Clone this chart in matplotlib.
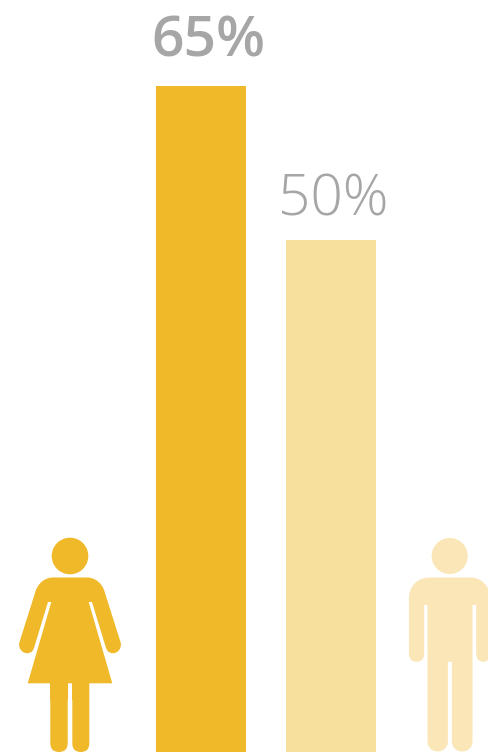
# gender_bars.py
import matplotlib
matplotlib.use("Agg")
import matplotlib.pyplot as plt
from matplotlib.path import Path
from matplotlib.patches import Circle, PathPatch, FancyBboxPatch

plt.rcParams["font.family"] = ["Open Sans", "DejaVu Sans"]

# --- Data ------------------------------------------------------------------
groups = ["Women", "Men"]
values = [65, 50]
labels = ["65%", "50%"]

GOLD = "#f0b929"
PALE = "#f7df9d"
PALER = "#fae6b7"
GREY = "#a6a6a6"

W, H = 488, 752


def rounded_bar(ax, x0, x1, y0, y1, r, color):
    # vertical bar with fully rounded ends, y measured downwards
    ax.add_patch(FancyBboxPatch((x0 + r, y0 + r), x1 - x0 - 2 * r, y1 - y0 - 2 * r,
                                boxstyle=f"round,pad={r},rounding_size={r}",
                                fc=color, ec="none"))


def draw_woman(ax, cx, color):
    ax.add_patch(Circle((cx, 556), 18.3, fc=color, ec="none"))
    # left half of the outline, mirrored for the right side
    half = [
        (Path.MOVETO, (-17, 577.5)),
        (Path.CURVE4, (-25, 577.5)), (Path.CURVE4, (-32.5, 583)), (Path.CURVE4, (-35, 593)),
        (Path.LINETO, (-50.5, 642)),
        (Path.CURVE4, (-53, 650)), (Path.CURVE4, (-44, 657)), (Path.CURVE4, (-37.5, 651)),
        (Path.LINETO, (-36, 648)),
        (Path.LINETO, (-22, 602)),
        (Path.LINETO, (-18.7, 602)),
        (Path.LINETO, (-42.3, 683.3)),
    ]
    left = [(c, (cx + p[0], p[1])) for c, p in half]
    right = [(c, (cx - p[0], p[1])) for c, p in half]
    # walk down the left edge, across the hem and back up the right edge
    verts = [p for _, p in left]
    codes = [c for c, _ in left]
    verts.append((cx + 42.3, 683.3))
    codes.append(Path.LINETO)
    rev = [p for _, p in right][::-1][1:]
    rev_codes = [c for c, _ in right][::-1]
    # a reversed bezier keeps its codes, only shifted by one slot
    verts += rev
    codes += [Path.LINETO if c == Path.MOVETO else c for c in rev_codes[:-1]]
    verts.append(left[0][1])
    codes.append(Path.CLOSEPOLY)
    ax.add_patch(PathPatch(Path(verts, codes), fc=color, ec="none"))
    # legs
    rounded_bar(ax, cx - 19.7, cx - 2.3, 675, 752, 8.7, color)
    rounded_bar(ax, cx + 2.3, cx + 19.3, 675, 752, 8.5, color)
    ax.fill([cx - 19.7, cx - 2.3, cx - 2.3, cx - 19.7], [680, 680, 700, 700], color=color, lw=0)
    ax.fill([cx + 2.3, cx + 19.3, cx + 19.3, cx + 2.3], [680, 680, 700, 700], color=color, lw=0)


def draw_man(ax, cx, color):
    ax.add_patch(Circle((cx, 556), 18, fc=color, ec="none"))
    outline = [
        (Path.MOVETO, (cx - 20, 577.5)),
        (Path.LINETO, (cx + 20, 577.5)),
        (Path.CURVE4, (cx + 33, 577.5)), (Path.CURVE4, (cx + 40.5, 587)), (Path.CURVE4, (cx + 40.5, 599)),
        (Path.LINETO, (cx + 40.5, 654)),
        (Path.CURVE4, (cx + 40.5, 664.5)), (Path.CURVE4, (cx + 26.5, 664.5)), (Path.CURVE4, (cx + 26.5, 654)),
        (Path.LINETO, (cx + 26.5, 605)),
        (Path.LINETO, (cx + 22.8, 605)),
        (Path.LINETO, (cx + 22.8, 741)),
        (Path.CURVE4, (cx + 22.8, 755)), (Path.CURVE4, (cx + 2.2, 755)), (Path.CURVE4, (cx + 2.2, 741)),
        (Path.LINETO, (cx + 2.2, 661.7)),
        (Path.LINETO, (cx - 1.8, 661.7)),
        (Path.LINETO, (cx - 1.8, 741)),
        (Path.CURVE4, (cx - 1.8, 755)), (Path.CURVE4, (cx - 22.2, 755)), (Path.CURVE4, (cx - 22.2, 741)),
        (Path.LINETO, (cx - 22.2, 605)),
        (Path.LINETO, (cx - 25.5, 605)),
        (Path.LINETO, (cx - 25.5, 654)),
        (Path.CURVE4, (cx - 25.5, 664.5)), (Path.CURVE4, (cx - 40.8, 664.5)), (Path.CURVE4, (cx - 40.8, 654)),
        (Path.LINETO, (cx - 40.8, 599)),
        (Path.CURVE4, (cx - 40.8, 587)), (Path.CURVE4, (cx - 33, 577.5)), (Path.CURVE4, (cx - 20, 577.5)),
        (Path.CLOSEPOLY, (cx - 20, 577.5)),
    ]
    codes, verts = zip(*outline)
    ax.add_patch(PathPatch(Path(verts, codes), fc=color, ec="none"))


# --- Plot ------------------------------------------------------------------
fig = plt.figure(figsize=(W / 100, H / 100), dpi=100, facecolor="white")

# bars: full-bleed axes scaled so one percent is about 10.25 px
ax = fig.add_axes([0, 0, 1, 1])
ax.set_xlim(0, W)
ax.set_ylim(0, H / 10.246)
ax.axis("off")

bar_x = [201, 330.5]
bar_colors = [GOLD, PALE]
ax.bar(bar_x, values, width=90, color=bar_colors, linewidth=0)

# value labels sit above the bars, first one heavier
ax.text(208, 65 + 2.9, labels[0], ha="center", va="baseline", fontsize=41,
        fontweight="semibold", color=GREY)
ax.text(333, 50 + 2.4, labels[1], ha="center", va="baseline", fontsize=40.8,
        fontweight="light", color=GREY)

# icons live on an overlay in pixel units with y running downwards
icons = fig.add_axes([0, 0, 1, 1])
icons.set_xlim(0, W)
icons.set_ylim(H, 0)
icons.axis("off")
icons.patch.set_alpha(0)

draw_woman(icons, 70, GOLD)
draw_man(icons, 449.7, PALER)

fig.savefig("out.png", dpi=100)
